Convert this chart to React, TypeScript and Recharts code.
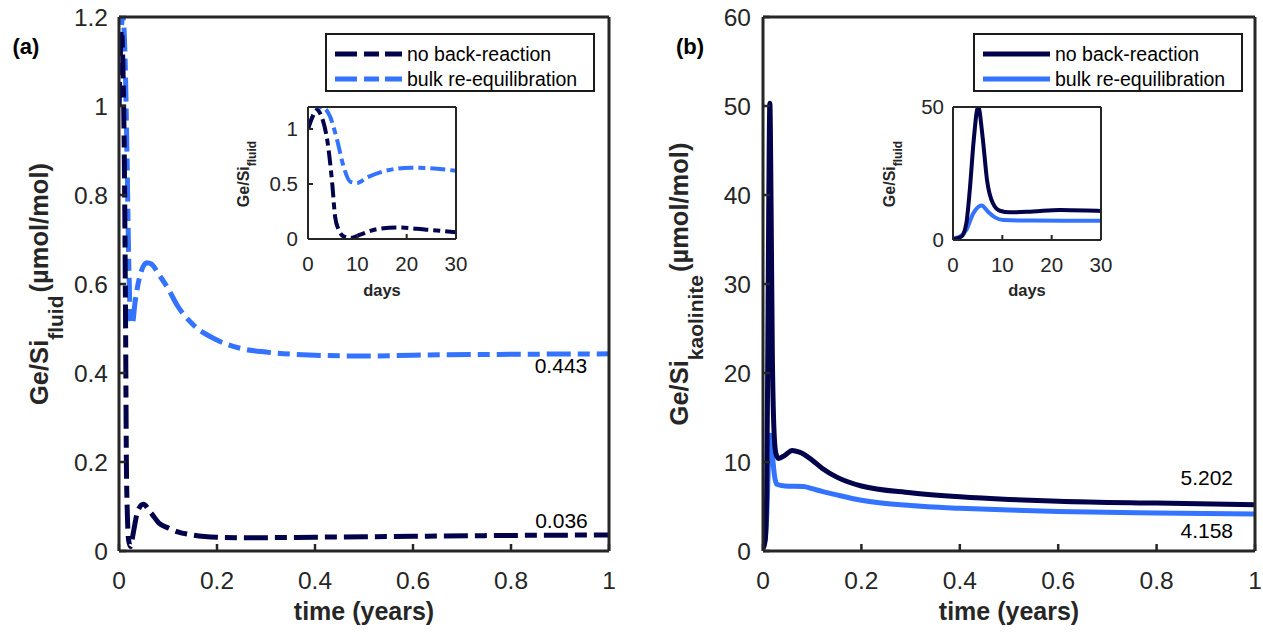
import React from 'react';
import { LineChart, Line, XAxis, YAxis, ReferenceDot, Legend } from 'recharts';

const FONT = '"Liberation Sans", Arial, Helvetica, sans-serif';
const DARK = '#03034b';
const LIGHT = '#3373ff';
const AX = '#262626';
const DAYS_PER_YEAR = 365;

// ---------- (a) Ge/Si fluid ----------
// first 30 days (in days)
const fluidNoBackDays = [0, 1, 1.8, 3, 3.9, 4.9, 5.5, 6.2, 7.2, 8.6, 10.6, 14, 18, 24, 30];
const fluidNoBackEarly = [1.0, 1.12, 1.17, 1.08, 0.9, 0.51, 0.2, 0.085, 0.024, 0.01, 0.04, 0.09, 0.105, 0.085, 0.062];
const fluidBulkDays = [0, 1.1, 2.8, 4.5, 5.9, 7.2, 8.6, 9.9, 12, 15.3, 20.7, 24, 30];
const fluidBulkEarly = [1.0, 1.13, 1.2, 1.11, 0.9, 0.66, 0.52, 0.51, 0.56, 0.615, 0.648, 0.645, 0.62];
// later part (in years)
const fluidLateYears = [0.1, 0.12, 0.15, 0.2, 0.25, 0.3, 0.4, 0.5, 0.6, 0.8, 1.0];
const fluidNoBackLate = [0.052, 0.043, 0.036, 0.031, 0.03, 0.03, 0.031, 0.032, 0.033, 0.035, 0.036];
const fluidBulkLate = [0.59, 0.55, 0.51, 0.474, 0.455, 0.447, 0.44, 0.438, 0.44, 0.442, 0.443];

// ---------- (b) Ge/Si kaolinite ----------
const kaolNoBackDays = [0, 1.7, 2.7, 3.4, 4.2, 5.1, 6.0, 6.9, 8.1, 9.5, 11.5, 16.2, 21.7, 27, 30];
const kaolNoBackEarly = [0.25, 1.25, 6.25, 18.75, 37.5, 50.3, 38.75, 22.5, 13.75, 11, 10.4, 10.75, 11.3, 11.1, 10.9];
const kaolBulkDays = [0, 1.35, 2.7, 4.1, 5.8, 7.1, 8.5, 10.2, 16.2, 30];
const kaolBulkEarly = [0.6, 1.25, 3.75, 10, 13.0, 10.6, 8.5, 7.5, 7.3, 7.25];
const kaolLateYears = [0.1, 0.12, 0.15, 0.2, 0.3, 0.4, 0.5, 0.6, 0.8, 1.0];
const kaolNoBackLate = [10.2, 9.3, 8.3, 7.3, 6.55, 6.1, 5.8, 5.6, 5.38, 5.202];
const kaolBulkLate = [7.0, 6.7, 6.3, 5.7, 5.1, 4.8, 4.6, 4.45, 4.28, 4.158];

// ticks
const yearTicks = [0, 0.2, 0.4, 0.6, 0.8, 1];
const dayTicks = [0, 10, 20, 30];
const fluidTicks = [0, 0.2, 0.4, 0.6, 0.8, 1, 1.2];
const fluidInsetTicks = [0, 0.5, 1];
const kaolTicks = [0, 10, 20, 30, 40, 50, 60];
const kaolInsetTicks = [0, 50];

const seriesNames = ['no back-reaction', 'bulk re-equilibration'];

type Pt = { x: number; y: number };
const zip = (xs: number[], ys: number[], k = 1): Pt[] => xs.map((x, i) => ({ x: x * k, y: ys[i] }));

const fluidNoBackInset = zip(fluidNoBackDays, fluidNoBackEarly);
const fluidBulkInset = zip(fluidBulkDays, fluidBulkEarly);
const fluidNoBackMain = [...zip(fluidNoBackDays, fluidNoBackEarly, 1 / DAYS_PER_YEAR), ...zip(fluidLateYears, fluidNoBackLate)];
const fluidBulkMain = [...zip(fluidBulkDays, fluidBulkEarly, 1 / DAYS_PER_YEAR), ...zip(fluidLateYears, fluidBulkLate)];

const kaolNoBackInset = zip(kaolNoBackDays, kaolNoBackEarly);
const kaolBulkInset = zip(kaolBulkDays, kaolBulkEarly);
const kaolNoBackMain = [...zip(kaolNoBackDays, kaolNoBackEarly, 1 / DAYS_PER_YEAR), ...zip(kaolLateYears, kaolNoBackLate)];
const kaolBulkMain = [...zip(kaolBulkDays, kaolBulkEarly, 1 / DAYS_PER_YEAR), ...zip(kaolLateYears, kaolBulkLate)];

const DASH_MAIN = '24 7 12 7';
const DASH_INSET = '15 5 7 5';

const axisLine = { stroke: AX, strokeWidth: 3 };
const tickLine = { stroke: AX, strokeWidth: 2.5 };
const insetAxisLine = { stroke: AX, strokeWidth: 2 };
const insetTickLine = { stroke: AX, strokeWidth: 2 };

// ---------- text helpers ----------
const Txt = ({ cx, base, size, bold, children, color = AX }: any) => (
  <div
    style={{
      position: 'absolute',
      left: cx - 500,
      width: 1000,
      top: base - 0.8465 * size,
      height: size,
      lineHeight: `${size}px`,
      fontSize: size,
      fontWeight: bold ? 'bold' : 'normal',
      fontFamily: FONT,
      color,
      textAlign: 'center',
      whiteSpace: 'nowrap',
      pointerEvents: 'none',
    }}
  >
    {children}
  </div>
);

const YTitle = ({ base, cy, size, subSize, sub, shift, tail }: any) => {
  const H = 40;
  const cx = base - 0.3465 * size;
  return (
    <div
      style={{
        position: 'absolute',
        left: cx - 250,
        top: cy - H / 2,
        width: 500,
        height: H,
        lineHeight: `${H}px`,
        textAlign: 'center',
        fontFamily: FONT,
        fontWeight: 'bold',
        fontSize: size,
        color: AX,
        whiteSpace: 'nowrap',
        transform: 'rotate(-90deg)',
        transformOrigin: '50% 50%',
        pointerEvents: 'none',
      }}
    >
      Ge/Si
      <span style={{ fontSize: subSize, position: 'relative', top: shift }}>{sub}</span>
      {tail ? <span style={{ marginLeft: 3 }}>{tail}</span> : null}
    </div>
  );
};

const LegendBox = ({ dashed }: { dashed: boolean }) => (
  <div
    style={{
      position: 'relative',
      boxSizing: 'border-box',
      width: 270,
      height: 59,
      border: `2.5px solid #1a1a1a`,
      background: '#fff',
      fontFamily: FONT,
      fontSize: 19.5,
      color: '#000',
    }}
  >
    {seriesNames.map((name, i) => (
      <div key={name} style={{ position: 'absolute', left: 8, top: 7 + i * 25, height: 24, display: 'flex', alignItems: 'center' }}>
        <svg width={67} height={10} style={{ display: 'block' }}>
          <line x1={0} y1={5} x2={67} y2={5} stroke={i === 0 ? DARK : LIGHT} strokeWidth={5} strokeDasharray={dashed ? '22 7 15 6' : undefined} />
        </svg>
        <span style={{ marginLeft: 5, lineHeight: '24px' }}>{name}</span>
      </div>
    ))}
  </div>
);

const tickStyle = { fill: AX, fontSize: 24.5, fontFamily: FONT };
const insetTickStyle = { fill: AX, fontSize: 20.5, fontFamily: FONT };

function MainChart({ left, width, mLeft, mRight, yWidth, yTicks, yMax, yTm, noBack, bulk, dash, notes, legendLeft }: any) {
  return (
    <div style={{ position: 'absolute', left, top: 0 }}>
      <LineChart width={width} height={634} margin={{ top: 16, right: mRight, bottom: 43, left: mLeft }}>
        <XAxis xAxisId="b" type="number" dataKey="x" domain={[0, 1]} ticks={yearTicks} interval={0} allowDataOverflow height={40}
          tickSize={-7} tickMargin={28} axisLine={axisLine} tickLine={tickLine} tick={tickStyle} />
        <XAxis xAxisId="t" orientation="top" type="number" dataKey="x" domain={[0, 1]} ticks={yearTicks} interval={0} allowDataOverflow height={1}
          tickSize={-7} axisLine={axisLine} tickLine={tickLine} tick={false} />
        <YAxis yAxisId="l" type="number" domain={[0, yMax]} ticks={yTicks} interval={0} allowDataOverflow width={yWidth}
          tickSize={-7} tickMargin={yTm} axisLine={axisLine} tickLine={tickLine} tick={tickStyle} />
        <YAxis yAxisId="r" orientation="right" type="number" domain={[0, yMax]} ticks={yTicks} interval={0} allowDataOverflow width={1}
          tickSize={-7} axisLine={axisLine} tickLine={tickLine} tick={false} />
        <Line xAxisId="b" yAxisId="l" data={bulk} dataKey="y" name={seriesNames[1]} type="monotone" stroke={LIGHT} strokeWidth={5}
          strokeDasharray={dash} dot={false} isAnimationActive={false} />
        <Line xAxisId="b" yAxisId="l" data={noBack} dataKey="y" name={seriesNames[0]} type="monotone" stroke={DARK} strokeWidth={5}
          strokeDasharray={dash} dot={false} isAnimationActive={false} />
        {notes.map((n: any) => (
          <ReferenceDot key={n.label} xAxisId="b" yAxisId="l" x={n.x} y={n.y} r={0} fill="none" stroke="none"
            label={{ value: n.label, position: 'center', fontSize: 21, fill: '#000', fontFamily: FONT }} />
        ))}
        <Legend layout="vertical" align="center" verticalAlign="middle" width={270} height={59}
          wrapperStyle={{ left: legendLeft, top: 33, width: 270, height: 59 }}
          content={() => <LegendBox dashed={!!dash} />} />
      </LineChart>
    </div>
  );
}

function InsetChart({ left, mBottom, yTicks, yMax, yTm, noBack, bulk, dash }: any) {
  return (
    <div style={{ position: 'absolute', left, top: 82 }}>
      <LineChart width={220} height={235} margin={{ top: 24, right: 11, bottom: mBottom, left: 20 }}>
        <XAxis xAxisId="b" type="number" dataKey="x" domain={[0, 30]} ticks={dayTicks} interval={0} allowDataOverflow height={50}
          tickSize={-5} tickMargin={22} axisLine={insetAxisLine} tickLine={insetTickLine} tick={insetTickStyle} />
        <XAxis xAxisId="t" orientation="top" type="number" dataKey="x" domain={[0, 30]} ticks={dayTicks} interval={0} allowDataOverflow height={1}
          tickSize={-5} axisLine={insetAxisLine} tickLine={insetTickLine} tick={false} />
        <YAxis yAxisId="l" type="number" domain={[0, yMax]} ticks={yTicks} interval={0} allowDataOverflow width={40}
          tickSize={-5} tickMargin={yTm} axisLine={insetAxisLine} tickLine={insetTickLine} tick={insetTickStyle} />
        <YAxis yAxisId="r" orientation="right" type="number" domain={[0, yMax]} ticks={yTicks} interval={0} allowDataOverflow width={1}
          tickSize={-5} axisLine={insetAxisLine} tickLine={insetTickLine} tick={false} />
        <Line xAxisId="b" yAxisId="l" data={bulk} dataKey="y" type="monotone" stroke={LIGHT} strokeWidth={4}
          strokeDasharray={dash} dot={false} isAnimationActive={false} />
        <Line xAxisId="b" yAxisId="l" data={noBack} dataKey="y" type="monotone" stroke={DARK} strokeWidth={4}
          strokeDasharray={dash} dot={false} isAnimationActive={false} />
      </LineChart>
    </div>
  );
}

export default function App() {
  return (
    <div style={{ position: 'absolute', left: 0, top: 0, width: 1263, height: 634, background: '#fff', overflow: 'hidden' }}>
      <MainChart left={0} width={620} mLeft={69} mRight={10} yWidth={50} yTicks={fluidTicks} yMax={1.2} yTm={18}
        noBack={fluidNoBackMain} bulk={fluidBulkMain} dash={DASH_MAIN} legendLeft={325}
        notes={[{ x: 0.902, y: 0.4157, label: '0.443' }, { x: 0.903, y: 0.0674, label: '0.036' }]} />
      <MainChart left={640} width={623} mLeft={63} mRight={7} yWidth={60} yTicks={kaolTicks} yMax={60} yTm={19}
        noBack={kaolNoBackMain} bulk={kaolBulkMain} dash={undefined} legendLeft={333}
        notes={[{ x: 0.902, y: 8.2, label: '5.202' }, { x: 0.902, y: 2.3, label: '4.158' }]} />

      <InsetChart left={248} mBottom={28} yTicks={fluidInsetTicks} yMax={1.2} yTm={15}
        noBack={fluidNoBackInset} bulk={fluidBulkInset} dash={DASH_INSET} />
      <InsetChart left={893} mBottom={27} yTicks={kaolInsetTicks} yMax={50} yTm={14}
        noBack={kaolNoBackInset} bulk={kaolBulkInset} dash={undefined} />

      <YTitle base={48} cy={284} size={25.5} subSize={21} sub="fluid" shift={15} tail="(µmol/mol)" />
      <YTitle base={688} cy={284} size={25.5} subSize={21} sub="kaolinite" shift={15} tail="(µmol/mol)" />
      <YTitle base={250} cy={174} size={16} subSize={12} sub="fluid" shift={7} />
      <YTitle base={896} cy={174} size={16} subSize={12} sub="fluid" shift={7} />

      <Txt cx={364} base={620} size={25} bold>time (years)</Txt>
      <Txt cx={1009} base={620} size={25} bold>time (years)</Txt>
      <Txt cx={382} base={296} size={16.5} bold>days</Txt>
      <Txt cx={1027} base={296} size={16.5} bold>days</Txt>
      <Txt cx={26} base={55} size={22} bold color="#000">(a)</Txt>
      <Txt cx={690} base={55} size={22} bold color="#000">(b)</Txt>
    </div>
  );
}
